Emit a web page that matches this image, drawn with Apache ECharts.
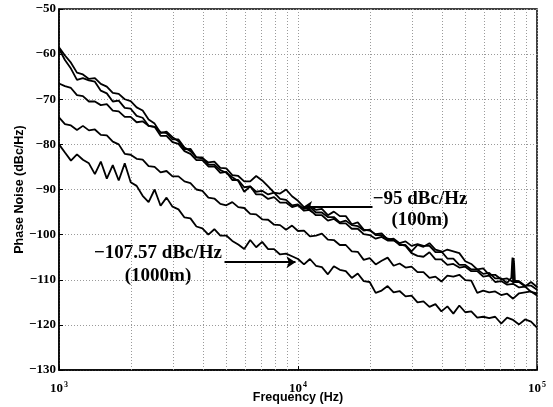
<!DOCTYPE html>
<html><head><meta charset="utf-8">
<script src="https://cdn.jsdelivr.net/npm/echarts@6/dist/echarts.min.js"></script>
<style>html,body{margin:0;padding:0;background:#fff}#c{width:553px;height:407px}</style>
</head><body><div id="c"></div>
<script>
const freqs = [1000,1059,1122,1189,1259,1334,1413,1496,1585,1679,1778,1884,1995,2113,2239,2371,2512,2661,2818,2985,
3162,3350,3548,3758,3981,4217,4467,4732,5012,5309,5623,5957,6310,6683,7079,7499,7943,8414,8913,9441,
10000,10593,11220,11885,12589,13335,14125,14962,15849,16788,17783,18836,19953,21135,22387,23714,25119,26607,28184,29854,
31623,33497,35481,37584,39811,42170,44668,47315,50119,53088,56234,59566,63096,66834,70795,74989,79433,84140,89125,94406,100000];

const curveA = [-58.5,-60.3,-61.9,-64.1,-64.5,-65.5,-65.3,-66.6,-67.2,-68.6,-68.8,-70,-70.4,-71.8,-72.5,-74.5,-75.4,-77.5,-77.2,-78.4,
-79.3,-81.1,-81,-82.9,-83.1,-84,-83.8,-85.2,-85.3,-86.8,-87,-88.2,-88.2,-87,-88,-89.3,-90.7,-90.9,-90,-91.5,
-92.5,-93.9,-93.7,-94.5,-94.3,-95.7,-94.9,-95.9,-95.9,-97.7,-97.3,-98.9,-99.1,-99.9,-99.7,-101.1,-100.9,-101.9,-101.5,-102.5,
-102.1,-102.5,-102.5,-103.9,-103.9,-103.3,-103.7,-104.1,-105.9,-106.5,-107.7,-107.5,-108.9,-108.9,-109.9,-109.7,-110.5,-110.5,-111.5,-110.5,-111.6];

const curveB = [-58.8,-61.3,-63.2,-65.7,-65.3,-65.8,-66.1,-68.1,-68.7,-70.5,-70.3,-71.9,-72.1,-73.7,-74.1,-75.9,-76.1,-78.1,-78.1,-79.5,
-79.9,-81.5,-82.1,-83.5,-83.5,-84.9,-84.9,-86.3,-86.1,-87.9,-87.9,-89.5,-89.3,-90.5,-90.3,-91.1,-90.7,-92.1,-92.3,-93.5,
-93.3,-94.3,-93.9,-95.1,-95.1,-96.1,-96.1,-97.3,-96.9,-97.9,-98.1,-99.1,-98.9,-100.1,-100.1,-100.9,-101.1,-102.3,-102.3,-103.7,
-102.3,-102.7,-101.9,-103.3,-103.7,-105.3,-105.3,-106.7,-106.7,-107.7,-107.7,-108.7,-108.5,-109.7,-109.7,-110.7,-110.6,-110.3,-111.3,-111.3,-112.2];

const spikeFreqs = [78100, 78700, 79000, 79800, 80200, 80800];
const spikeVals  = [-109.6, -106.2, -105.1, -105.2, -106.4, -110.2];

const curveC = [-66.5,-67.1,-67.5,-69.1,-69.3,-70.5,-70.5,-71.3,-71.1,-72.5,-72.7,-73.9,-73.9,-75.1,-74.9,-75.9,-76.1,-77.3,-77.5,-78.9,
-78.9,-80.7,-81.5,-82.9,-82.9,-84.5,-84.5,-85.7,-86.3,-87.3,-88.1,-90.5,-89.3,-91.1,-91.1,-92.1,-91.7,-92.9,-92.9,-93.9,
-93.5,-94.7,-94.5,-95.7,-95.7,-96.9,-96.5,-97.5,-97.5,-98.7,-98.7,-99.9,-100.1,-100.9,-100.5,-101.3,-101.3,-102.1,-102.5,-104.1,
-104.7,-104.9,-103.9,-105.5,-105.5,-106.7,-106.5,-107.3,-107.1,-108.1,-108.1,-109.3,-109.1,-110.5,-110.3,-111.1,-110.9,-111.7,-111.5,-112.7,-113];

const curveD = [-74,-75.5,-75.8,-76.8,-75.9,-76.9,-76.7,-77.9,-78,-79.4,-80,-82.1,-82.3,-83.2,-83.4,-84.8,-85,-86.2,-85.9,-87.1,
-87.1,-88.2,-88.6,-90,-90.3,-91.8,-92,-93.2,-93.5,-92.8,-93.9,-94.1,-95.4,-95.5,-96.6,-96.7,-97.8,-97.9,-98.9,-98,
-99.2,-99.1,-100.4,-100.2,-99.8,-101.1,-101.2,-102.3,-102.3,-103.7,-103.8,-105.6,-105.2,-106.6,-105.8,-105.1,-106.9,-106.4,-107.3,-107.1,
-108.3,-108.3,-109.6,-109.3,-110.4,-109.1,-109.3,-108.9,-110.1,-110.2,-112.9,-112.4,-112.8,-112.6,-113.4,-113.1,-114.2,-113,-112.8,-112.6,-113.5];

const curveE = [-80,-81.8,-83.6,-82.2,-83.4,-84.2,-86.6,-83.8,-87.6,-84.6,-88,-84.2,-88.4,-89.2,-91.4,-92.8,-90,-93.6,-91.8,-93.8,
-94.4,-96.2,-96.4,-98.2,-98.6,-100,-98.8,-100.2,-100.2,-101.4,-102.2,-103.2,-101.2,-102.8,-101.6,-103.2,-103.2,-104.4,-104.2,-104.8,
-105.4,-106.6,-105.4,-106.9,-107.2,-108.8,-107,-107.8,-108.1,-109.6,-108.6,-110.3,-110.5,-112.9,-112.4,-111.4,-112.8,-112.5,-113.7,-113.5,
-115,-114.8,-116,-115.4,-117,-115.9,-117.5,-115.7,-117.2,-117,-118.4,-118.2,-118.5,-118.2,-119.7,-118.4,-118.9,-119.9,-118.8,-119.3,-120.6];

const yMin = -130, yMax = -50, yStep = 10;
const xMin = 1000, xMax = 100000;
const minorGridFreqs = [2000,3000,4000,5000,6000,7000,8000,9000,20000,30000,40000,50000,60000,70000,80000,90000];

const arrow100m  = { from: [20500, -93.9], to: [10500, -93.9] };
const arrow1000m = { from: [4926, -106.1], to: [9761, -106.1] };
const label100m  = ['\u221295 dBc/Hz', '(100m)'];
const label1000m = ['\u2212107.57 dBc/Hz', '(1000m)'];
const xName = 'Frequency (Hz)';
const yName = 'Phase Noise (dBc/Hz)';

function pairs(xs, ys) { return xs.map((x, i) => [x, ys[i]]); }
const dataB = pairs(freqs, curveB).concat(pairs(spikeFreqs, spikeVals)).sort((a, b) => a[0] - b[0]);

const gridColor = '#9a9a9a';
const lineStyle = { color: '#000', width: 1.8 };
function lineSeries(data, extra) {
  return Object.assign({ type: 'line', data: data, showSymbol: false, symbol: 'none', lineStyle: lineStyle, silent: true, animation: false, z: 3 }, extra || {});
}
const serif = 'Liberation Serif';
const sans = 'Liberation Sans';

const chart = echarts.init(document.getElementById('c'), null, { renderer: 'canvas' });
chart.setOption({
  animation: false,
  backgroundColor: '#fff',
  grid: { left: 59, right: 16, top: 9, bottom: 37, containLabel: false, outerBoundsMode: 'none', show: true, borderColor: '#000', borderWidth: 1.5, backgroundColor: 'transparent' },
  xAxis: {
    type: 'log', logBase: 10, min: xMin, max: xMax,
    name: xName, nameLocation: 'middle', nameGap: 21, nameMoveOverlap: false,
    nameTextStyle: { fontFamily: sans, fontWeight: 'bold', fontSize: 12.5, color: '#000', verticalAlign: 'top' },
    axisLine: { show: true, lineStyle: { color: '#000', width: 1.5 } },
    axisTick: { show: true, inside: true, length: 4, lineStyle: { color: '#000' } },
    splitLine: { show: true, lineStyle: { color: gridColor, width: 1, type: [1, 2] } },
    axisLabel: {
      margin: 11,
      formatter: function (v) {
        const e = Math.log10(v);
        if (Math.abs(e - Math.round(e)) > 1e-6) return '';
        return '{b|10}{s|' + Math.round(e) + '}';
      },
      rich: {
        b: { fontFamily: serif, fontWeight: 'bold', fontSize: 13, color: '#000', lineHeight: 15 },
        s: { fontFamily: serif, fontWeight: 'bold', fontSize: 8, color: '#000', verticalAlign: 'top', lineHeight: 8, padding: [0, 0, 0, 1] }
      }
    }
  },
  yAxis: {
    type: 'value', min: yMin, max: yMax, interval: yStep,
    name: yName, nameLocation: 'middle', nameGap: 33, nameRotate: 90, nameMoveOverlap: false,
    nameTextStyle: { fontFamily: sans, fontWeight: 'bold', fontSize: 12.5, color: '#000' },
    axisLine: { show: true, lineStyle: { color: '#000', width: 1.5 } },
    axisTick: { show: true, inside: true, length: 4, lineStyle: { color: '#000' } },
    splitLine: { show: true, lineStyle: { color: gridColor, width: 1, type: [1, 2] } },
    axisLabel: {
      margin: 3, fontFamily: serif, fontWeight: 'bold', fontSize: 13, color: '#000',
      formatter: function (v) { return String(v).replace('-', '\u2212'); }
    }
  },
  series: [
    lineSeries(pairs(freqs, curveA), {
      markLine: {
        silent: true, symbol: ['none', 'none'], label: { show: false }, animation: false, z: 1,
        lineStyle: { color: gridColor, width: 1, type: [1, 2] },
        data: minorGridFreqs.map(f => ({ xAxis: f }))
      }
    }),
    lineSeries(dataB),
    lineSeries(pairs(freqs, curveC)),
    lineSeries(pairs(freqs, curveD)),
    lineSeries(pairs(freqs, curveE), {
      markLine: {
        silent: true, symbol: ['none', 'arrow'], symbolSize: 9, label: { show: false }, animation: false,
        lineStyle: { color: '#000', width: 2, type: 'solid' },
        data: [
          [{ coord: arrow100m.from }, { coord: arrow100m.to }],
          [{ coord: arrow1000m.from }, { coord: arrow1000m.to }]
        ]
      }
    })
  ],
  graphic: [
    { type: 'text', x: 420, y: 199, silent: true, style: { text: label100m[0], fontFamily: serif, fontWeight: 'bold', fontSize: 19, fill: '#000', align: 'center', verticalAlign: 'middle' } },
    { type: 'text', x: 420, y: 220, silent: true, style: { text: label100m[1], fontFamily: serif, fontWeight: 'bold', fontSize: 19, fill: '#000', align: 'center', verticalAlign: 'middle' } },
    { type: 'text', x: 158, y: 253, silent: true, style: { text: label1000m[0], fontFamily: serif, fontWeight: 'bold', fontSize: 19, fill: '#000', align: 'center', verticalAlign: 'middle' } },
    { type: 'text', x: 158, y: 276, silent: true, style: { text: label1000m[1], fontFamily: serif, fontWeight: 'bold', fontSize: 19, fill: '#000', align: 'center', verticalAlign: 'middle' } }
  ]
});
</script>
</body></html>
